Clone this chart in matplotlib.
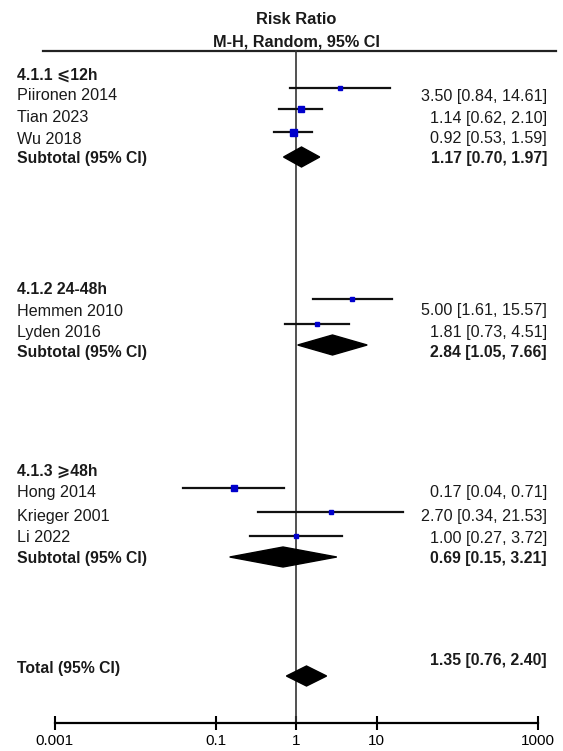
import matplotlib.pyplot as plt
from matplotlib.patches import Polygon

plt.rcParams['font.family'] = ['Liberation Sans', 'DejaVu Sans', 'Noto Sans CJK SC']

# данные по исследованиям
groups = ['4.1.1 ⩽12h', '4.1.2 24-48h', '4.1.3 ⩾48h']
studies = ['Piironen 2014', 'Tian 2023', 'Wu 2018',
           'Hemmen 2010', 'Lyden 2016',
           'Hong 2014', 'Krieger 2001', 'Li 2022']
rr = [3.50, 1.14, 0.92, 5.00, 1.81, 0.17, 2.70, 1.00]
lo = [0.84, 0.62, 0.53, 1.61, 0.73, 0.04, 0.34, 0.27]
hi = [14.61, 2.10, 1.59, 15.57, 4.51, 0.71, 21.53, 3.72]
box = [4, 6.5, 7, 5, 5, 5.5, 3.5, 5]   # размер квадратика в пикселях

sub_rr = [1.17, 2.84, 0.69]
sub_lo = [0.70, 1.05, 0.15]
sub_hi = [1.97, 7.66, 3.21]

tot_rr, tot_lo, tot_hi = 1.35, 0.76, 2.40

ticks = [0.001, 0.1, 1, 10, 1000]
tick_labels = ['0.001', '0.1', '1', '10', '1000']

# строки (в пикселях сверху)
y_group = [75, 290, 471]
y_study = [96, 118, 139, 311, 333, 493, 516, 538]
y_study_mark = [88, 109, 132, 299, 324, 488, 512, 536]
y_sub = [158, 352, 559]
y_sub_mark = [157, 345, 557]
y_tot, y_tot_mark = 668, 676
y_axis = 723

W, H = 563, 751
fig = plt.figure(figsize=(W / 100, H / 100), dpi=100)

# фон для текста
bg = fig.add_axes([0, 0, 1, 1])
bg.set_xlim(0, W)
bg.set_ylim(H, 0)
bg.axis('off')

# сама диаграмма в лог-шкале
x0, x1 = 54.5, 537.5
ax = fig.add_axes([x0 / W, 0, (x1 - x0) / W, 1])
ax.set_xscale('log')
ax.set_xlim(0.001, 1000)
ax.set_ylim(H, 0)
ax.patch.set_alpha(0)
for s in ['top', 'left', 'right']:
    ax.spines[s].set_visible(False)
ax.spines['bottom'].set_position(('data', y_axis))
ax.spines['bottom'].set_linewidth(1.6)
ax.set_yticks([])
ax.set_xticks(ticks)
ax.set_xticklabels(tick_labels)
ax.minorticks_off()
ax.tick_params(axis='x', direction='inout', length=10, width=1.5,
               labelsize=11, pad=3)

txt = dict(va='center', color='#1a1a1a')
reg = dict(fontsize=11.6, **txt)
bold = dict(fontsize=11.3, fontweight='bold', **txt)

# шапка
bg.text(296, 20, 'Risk Ratio', ha='center', fontsize=11.9, fontweight='bold', **txt)
bg.text(296, 42, 'M-H, Random, 95% CI', ha='center', fontsize=11.7, fontweight='bold', **txt)
bg.plot([43, 556], [51, 51], color='#222222', lw=1.6)

# линия отсутствия эффекта
ax.plot([1, 1], [51, y_axis], color='#333333', lw=1.2)

for i, g in enumerate(groups):
    bg.text(17, y_group[i], g, ha='left', **bold)

for i, name in enumerate(studies):
    bg.text(17, y_study[i], name, ha='left', **reg)
    bg.text(547, y_study[i], f'{rr[i]:.2f} [{lo[i]:.2f}, {hi[i]:.2f}]', ha='right', **reg)
    ax.plot([lo[i], hi[i]], [y_study_mark[i]] * 2, color='#111111', lw=1.6, zorder=3)
    ax.plot(rr[i], y_study_mark[i], marker='s', ms=box[i] * 0.72, color='#0000cc',
            mec='#0000cc', zorder=4)


def diamond(est, low, high, yc, h=10):
    pts = [(low, yc), (est, yc - h), (high, yc), (est, yc + h)]
    ax.add_patch(Polygon(pts, closed=True, color='black', zorder=4))


for i in range(3):
    bg.text(17, y_sub[i], 'Subtotal (95% CI)', ha='left', **bold)
    bg.text(547, y_sub[i], f'{sub_rr[i]:.2f} [{sub_lo[i]:.2f}, {sub_hi[i]:.2f}]',
            ha='right', **bold)
    diamond(sub_rr[i], sub_lo[i], sub_hi[i], y_sub_mark[i])

bg.text(17, y_tot, 'Total (95% CI)', ha='left', **bold)
bg.text(547, 660, f'{tot_rr:.2f} [{tot_lo:.2f}, {tot_hi:.2f}]', ha='right', **bold)
diamond(tot_rr, tot_lo, tot_hi, y_tot_mark)

fig.savefig('out.png', dpi=100)
